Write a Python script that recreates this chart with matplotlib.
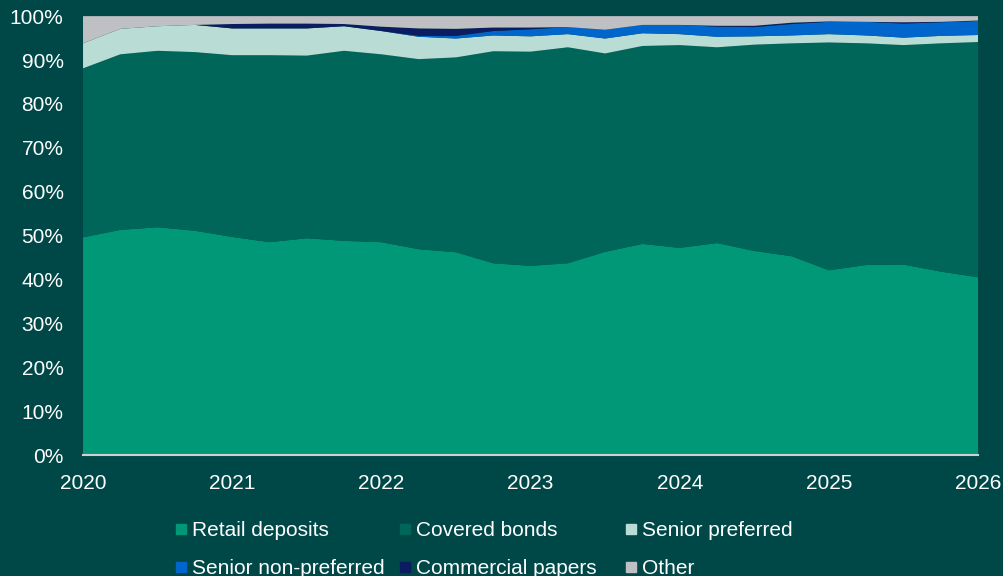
import matplotlib
matplotlib.use("Agg")
import matplotlib.pyplot as plt
from matplotlib.lines import Line2D
from matplotlib.ticker import FuncFormatter

plt.rcParams['font.family'] = ['Liberation Sans', 'DejaVu Sans']

quarters = [2020.0, 2020.25, 2020.5, 2020.75, 2021.0, 2021.25, 2021.5, 2021.75,
            2022.0, 2022.25, 2022.5, 2022.75, 2023.0, 2023.25, 2023.5, 2023.75,
            2024.0, 2024.25, 2024.5, 2024.75, 2025.0, 2025.25, 2025.5, 2025.75,
            2026.0]

retail = [49.6, 51.3, 51.9, 51.1, 49.7, 48.5, 49.4, 48.8, 48.5, 46.9, 46.2, 43.7,
          43.1, 43.7, 46.3, 48.1, 47.2, 48.3, 46.5, 45.3, 42.1, 43.3, 43.4, 41.8, 40.5]
covered = [38.5, 40.0, 40.2, 40.7, 41.4, 42.6, 41.6, 43.3, 42.8, 43.3, 44.4, 48.3,
           48.8, 49.2, 45.2, 45.1, 46.2, 44.6, 47.0, 48.5, 51.9, 50.5, 50.0, 52.0, 53.6]
senior_pref = [5.7, 5.8, 5.6, 6.2, 6.1, 6.1, 6.2, 5.6, 5.3, 5.1, 4.3, 3.6,
               3.5, 3.0, 3.4, 2.9, 2.5, 2.4, 1.9, 1.8, 1.9, 1.8, 1.7, 1.7, 1.6]
senior_nonpref = [0, 0, 0, 0, 0, 0, 0, 0, 0, 0.2, 0.6, 1.0,
                  1.6, 1.6, 2.0, 1.9, 2.1, 2.3, 2.1, 2.6, 2.8, 3.1, 3.2, 3.1, 3.2]
comm_papers = [0, 0, 0, 0, 1.0, 1.1, 1.1, 0.5, 1.0, 1.7, 1.6, 0.8,
               0.4, 0, 0, 0, 0, 0.2, 0.3, 0.3, 0.1, 0, 0.3, 0.1, 0.1]
other = [6.2, 2.9, 2.3, 2.0, 1.8, 1.7, 1.7, 1.8, 2.4, 2.8, 2.9, 2.6,
         2.6, 2.5, 3.1, 2.0, 2.0, 2.2, 2.2, 1.5, 1.2, 1.3, 1.4, 1.3, 1.0]

labels = ['Retail deposits', 'Covered bonds', 'Senior preferred',
          'Senior non-preferred', 'Commercial papers', 'Other']
colors = ['#009877', '#00665a', '#b9dcd5', '#0066cc', '#0b1d60', '#bfc0c4']
years = [2020, 2021, 2022, 2023, 2024, 2025, 2026]

bg = '#004848'
fig = plt.figure(figsize=(10.04, 5.76), dpi=100, facecolor=bg)
ax = fig.add_axes([0.0827, 0.21, 0.8915, 0.762])
ax.set_facecolor(bg)

ax.stackplot(quarters, retail, covered, senior_pref, senior_nonpref,
             comm_papers, other, colors=colors, linewidth=0)

ax.set_xlim(2020, 2026)
ax.set_ylim(0, 100)
ax.set_xticks(years)
ax.set_xticklabels([str(y) for y in years])
ax.set_yticks(range(0, 101, 10))
ax.yaxis.set_major_formatter(FuncFormatter(lambda v, p: f'{v:.0f}%'))
ax.tick_params(axis='both', length=0, colors='white', labelsize=15)
ax.tick_params(axis='x', pad=14)
ax.tick_params(axis='y', pad=14)

for s in ['left', 'right', 'top']:
    ax.spines[s].set_visible(False)
ax.spines['bottom'].set_color('#d0d0d0')
ax.spines['bottom'].set_linewidth(1.5)

handles = [Line2D([], [], marker='s', linestyle='none', markersize=7,
                  markerfacecolor=c, markeredgecolor=c) for c in colors]

# three one-column legends so the columns sit at fixed positions
col_x = [0.174, 0.397, 0.622]
for j, x in enumerate(col_x):
    idx = [j, j + 3]
    leg = fig.legend([handles[i] for i in idx], [labels[i] for i in idx],
                     loc='upper left', bbox_to_anchor=(x, 0.095),
                     frameon=False, fontsize=15, handlelength=0.6,
                     handletextpad=0.25, labelspacing=0.9,
                     borderpad=0, borderaxespad=0)
    for t in leg.get_texts():
        t.set_color('white')

fig.savefig('out.png', dpi=100, facecolor=bg)
